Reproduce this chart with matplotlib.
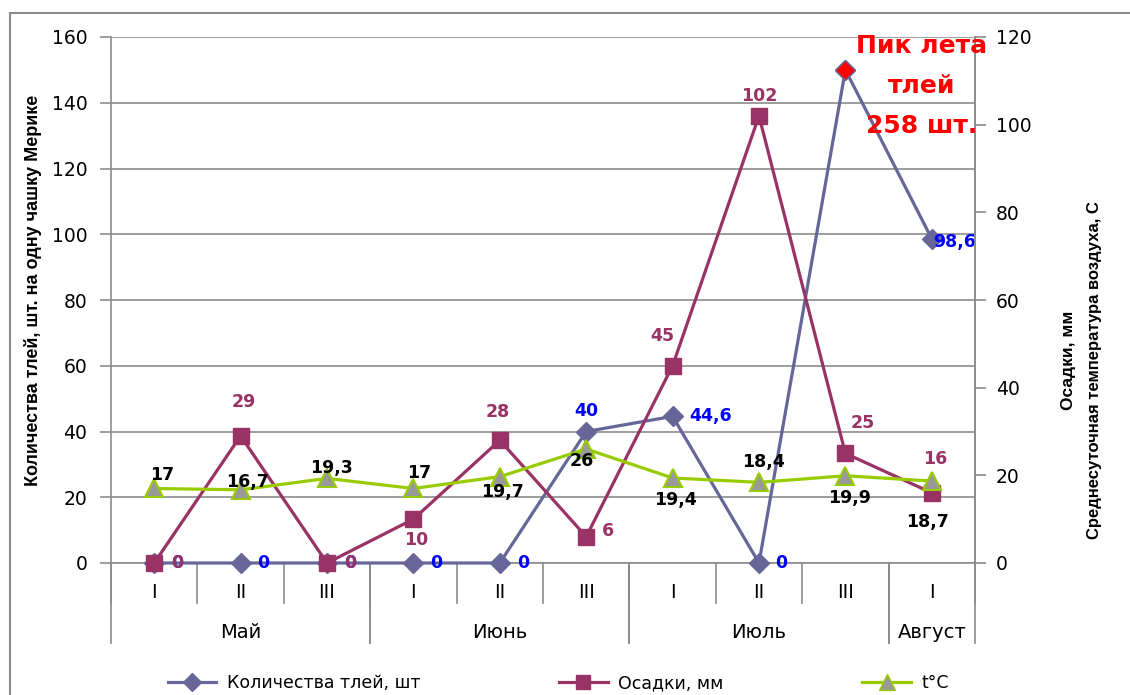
import numpy as np
import matplotlib.pyplot as plt
from matplotlib.lines import Line2D

# data
decades = ['I', 'II', 'III', 'I', 'II', 'III', 'I', 'II', 'III', 'I']
months = ['Май', 'Июнь', 'Июль', 'Август']
month_spans = [(0, 2), (3, 5), (6, 8), (9, 9)]
aphids = [0, 0, 0, 0, 0, 40, 44.6, 0, 150, 98.6]       # peak shown at top of scale
aphid_labels = ['0', '0', '0', '0', '0', '40', '44,6', '0', '', '98,6']
rain = [0, 29, 0, 10, 28, 6, 45, 102, 25, 16]
rain_labels = ['0', '29', '0', '10', '28', '6', '45', '102', '25', '16']
temp = [17, 16.7, 19.3, 17, 19.7, 26, 19.4, 18.4, 19.9, 18.7]
temp_labels = ['17', '16,7', '19,3', '17', '19,7', '26', '19,4', '18,4', '19,9', '18,7']

# label offsets in pixels (dx, dy)
aphid_off = [(23, 0)] * 5 + [(0, 21), (38, 0), (22, 0), (0, 0), (23, -3)]
rain_off = [(23, 0), (3, 34), (23, 0), (3, -21), (-2, 28), (22, 6),
            (-10, 30), (0, 20), (17, 30), (3, 34)]
temp_off = [(8, 13), (7, 8), (4, 10), (6, 15), (3, -15), (-4, -12),
            (3, -22), (4, 20), (4, -22), (-4, -41)]

c_aph = '#666699'
c_rain = '#993366'
c_temp = '#99CC00'
grid_c = '#8C8C8C'

W, H = 1130, 695
fig = plt.figure(figsize=(W / 100, H / 100), dpi=100)
ax = fig.add_axes([111 / W, 1 - 563 / H, 864 / W, 526 / H])
ax2 = ax.twinx()

x = np.arange(len(decades))

ax.plot(x, aphids, color=c_aph, lw=2.3, marker='D', ms=10, mfc=c_aph, mec=c_aph,
        zorder=3, clip_on=False)
ax.plot([x[8]], [aphids[8]], ls='none', marker='D', ms=10, mfc='#FF0000', mec=c_aph,
        zorder=4, clip_on=False)
ax2.plot(x, rain, color=c_rain, lw=2.3, marker='s', ms=12, mfc=c_rain, mec=c_rain,
         clip_on=False)
ax2.plot(x, temp, color=c_temp, lw=2.3, marker='^', ms=13, mfc='#999999', mec=c_temp,
         mew=1.5, clip_on=False)

ax.set_xlim(-0.5, 9.5)
ax.set_ylim(0, 160)
ax.set_yticks(np.arange(0, 161, 20))
ax2.set_ylim(0, 120)
ax2.set_yticks(np.arange(0, 121, 20))

ax.grid(axis='y', color=grid_c, lw=1.2)
ax.set_axisbelow(True)
ax.tick_params(axis='x', length=0, labelbottom=False)
ax.tick_params(axis='y', length=8, width=1.2, color=grid_c, pad=9, labelsize=13.5)
ax2.tick_params(axis='y', length=8, width=1.2, color=grid_c, pad=7, labelsize=13.5)
for a in (ax, ax2):
    a.spines['top'].set_visible(False)
    for s in a.spines.values():
        s.set_color(grid_c)
        s.set_linewidth(1.2)
ax2.spines['left'].set_visible(False)
ax2.spines['bottom'].set_visible(False)

# data labels
for i in range(len(x)):
    if aphid_labels[i]:
        ax.annotate(aphid_labels[i], (x[i], aphids[i]), xytext=aphid_off[i],
                    textcoords='offset pixels', ha='center', va='center',
                    color='#0000FF', fontsize=12.5, fontweight='bold', zorder=5)
for i in range(len(x)):
    ax2.annotate(rain_labels[i], (x[i], rain[i]), xytext=rain_off[i],
                 textcoords='offset pixels', ha='center', va='center',
                 color=c_rain, fontsize=12.5, fontweight='bold')
    ax2.annotate(temp_labels[i], (x[i], temp[i]), xytext=temp_off[i],
                 textcoords='offset pixels', ha='center', va='center',
                 color='black', fontsize=12.5, fontweight='bold')

# two-level category axis
tr = ax.get_xaxis_transform()
for i, d in enumerate(decades):
    ax.text(i, -0.057, d, transform=tr, ha='center', va='center', fontsize=14)
for b in np.arange(-0.5, 10, 1.0):
    ax.plot([b, b], [0, -0.076], transform=tr, color=grid_c, lw=1.2, clip_on=False)
for (a, b), m in zip(month_spans, months):
    ax.text((a + b) / 2, -0.133, m, transform=tr, ha='center', va='center', fontsize=14)
    for e in (a - 0.5, b + 0.5):
        ax.plot([e, e], [0, -0.152], transform=tr, color=grid_c, lw=1.2, clip_on=False)

# peak note
fig.text(922 / W, 1 - 86 / H, 'Пик лета\nтлей\n258 шт.', ha='center', va='center',
         color='#FF0000', fontsize=18, fontweight='bold', linespacing=1.85, zorder=10)

# axis titles
yfont = dict(family=['Liberation Sans Narrow', 'Liberation Sans', 'DejaVu Sans'],
             fontweight='bold')
fig.text(33 / W, 1 - 290 / H, 'Количества тлей, шт. на одну чашку Мерике',
         rotation=90, ha='center', va='center', fontsize=13, **yfont)
fig.text(1068 / W, 1 - 360 / H, 'Осадки, мм', rotation=90, ha='center', va='center',
         fontsize=12.5, **yfont)
fig.text(1095 / W, 1 - 370 / H, 'Среднесуточная температура воздуха, С',
         rotation=90, ha='center', va='center', fontsize=12, **yfont)

# legend
handles = [
    Line2D([], [], color=c_aph, lw=2.3, marker='D', ms=9, mfc=c_aph, mec=c_aph),
    Line2D([], [], color=c_rain, lw=2.3, marker='s', ms=10, mfc=c_rain, mec=c_rain),
    Line2D([], [], color=c_temp, lw=2.3, marker='^', ms=12, mfc='#999999', mec=c_temp),
]
fig.legend(handles, ['Количества тлей, шт', 'Осадки, мм', 't°C'], loc='center',
           bbox_to_anchor=(0.494, 1 - 683 / H), ncol=3, frameon=False, fontsize=12.5,
           handlelength=2.8, handletextpad=0.6, columnspacing=8)

# chart area border (left and top visible)
fig.add_artist(Line2D([10 / W, 10 / W], [0, 1 - 13 / H], color=grid_c, lw=1.5))
fig.add_artist(Line2D([10 / W, 1], [1 - 13 / H, 1 - 13 / H], color=grid_c, lw=1.5))

fig.savefig('out.png', dpi=100)
